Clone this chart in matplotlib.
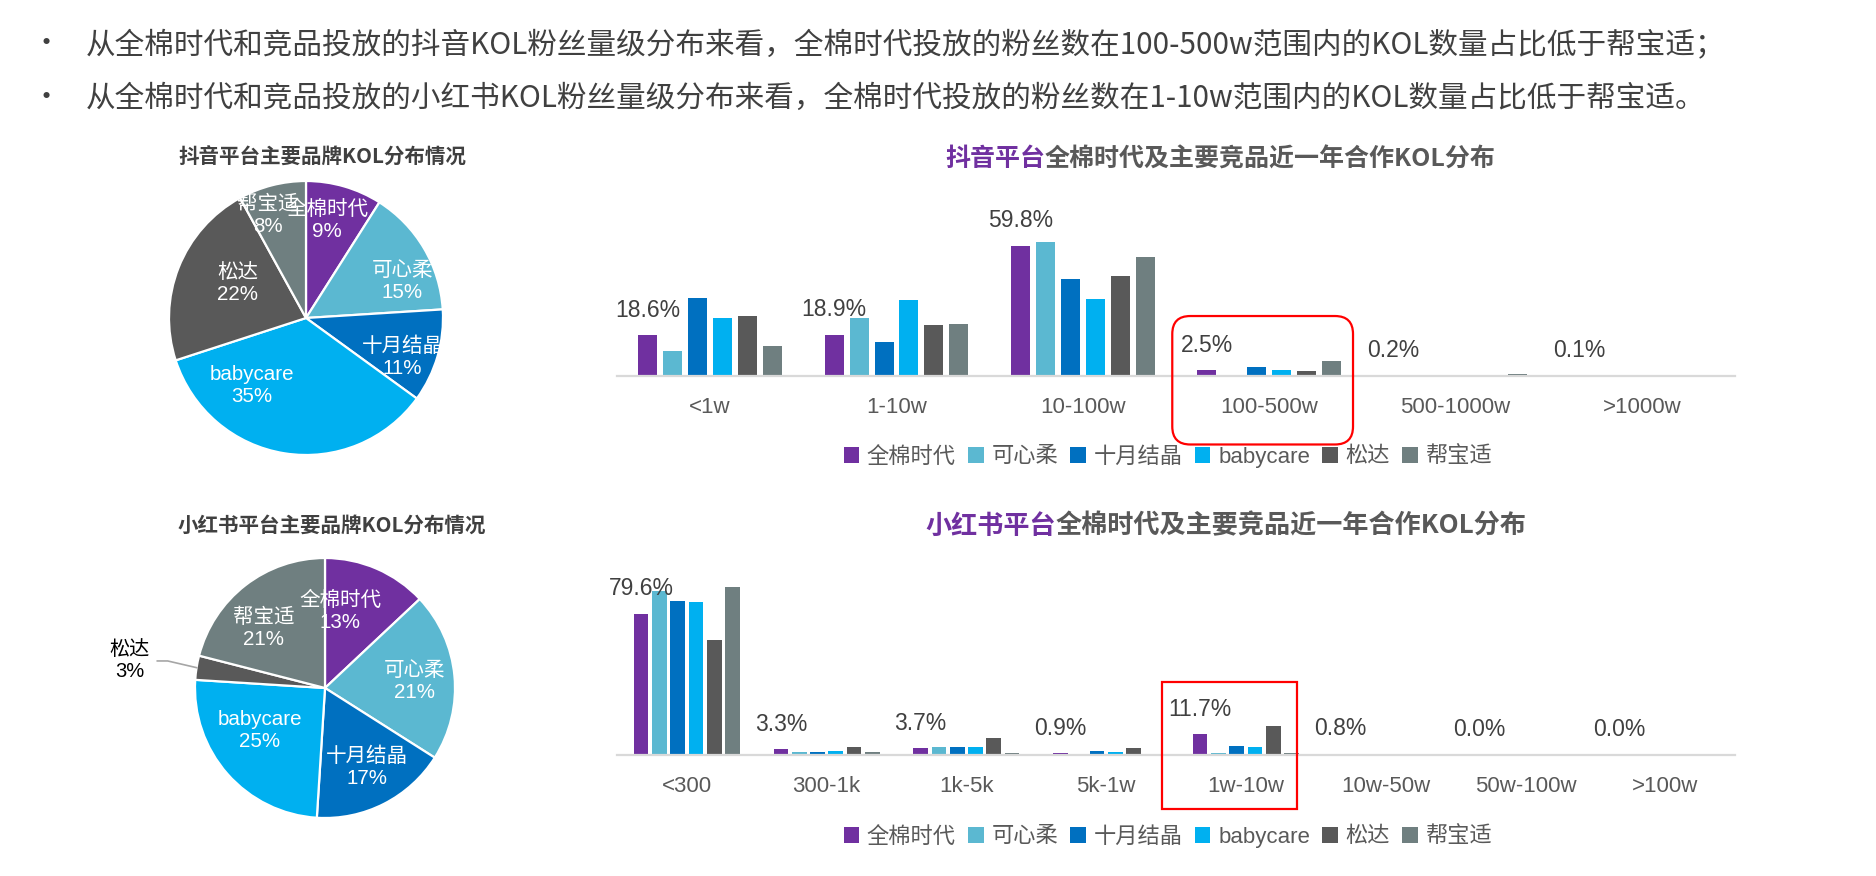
import matplotlib
matplotlib.use('Agg')
import matplotlib.pyplot as plt
from matplotlib.patches import Patch, FancyBboxPatch
from matplotlib.lines import Line2D
from matplotlib.transforms import IdentityTransform
import numpy as np

plt.rcParams['font.family'] = ['Liberation Sans', 'Noto Sans CJK SC', 'DejaVu Sans']
CJK = ['Noto Sans CJK SC', 'DejaVu Sans']

# ---------------- data ----------------
brands = ['全棉时代', '可心柔', '十月结晶', 'babycare', '松达', '帮宝适']
colors = ['#7030A0', '#5BB8D1', '#0070C0', '#00B0F0', '#595959', '#6F7F80']

douyin_pie = [9, 15, 11, 35, 22, 8]
xhs_pie = [13, 21, 17, 25, 3, 21]

douyin_cats = ['<1w', '1-10w', '10-100w', '100-500w', '500-1000w', '>1000w']
dy_quanmian = [18.6, 18.9, 59.8, 2.5, 0.2, 0.1]
dy_kexinrou = [11.2, 26.7, 61.5, 0.2, 0.2, 0.1]
dy_shiyue = [35.7, 15.4, 44.7, 3.8, 0.2, 0.1]
dy_babycare = [26.6, 34.7, 35.5, 2.6, 0.3, 0.1]
dy_songda = [27.7, 23.4, 46.1, 2.2, 0.3, 0.1]
dy_bangbaoshi = [13.5, 23.7, 54.7, 6.6, 0.6, 0.1]

xhs_cats = ['<300', '300-1k', '1k-5k', '5k-1w', '1w-10w', '10w-50w', '50w-100w', '>100w']
xhs_quanmian = [79.6, 3.3, 3.7, 0.9, 11.7, 0.8, 0.0, 0.0]
xhs_kexinrou = [92.5, 1.5, 4.3, 0.5, 1.0, 0.2, 0.0, 0.0]
xhs_shiyue = [86.7, 1.5, 4.3, 2.1, 4.9, 0.1, 0.0, 0.0]
xhs_babycare = [86.2, 2.3, 4.3, 1.5, 4.5, 0.5, 0.0, 0.0]
xhs_songda = [64.8, 4.3, 9.8, 3.8, 16.1, 0.6, 0.0, 0.0]
xhs_bangbaoshi = [94.4, 1.5, 1.3, 0.2, 1.3, 0.4, 0.0, 0.0]

bullets = [
    '从全棉时代和竞品投放的抖音KOL粉丝量级分布来看，全棉时代投放的粉丝数在100-500w范围内的KOL数量占比低于帮宝适；',
    '从全棉时代和竞品投放的小红书KOL粉丝量级分布来看，全棉时代投放的粉丝数在1-10w范围内的KOL数量占比低于帮宝适。',
]

# ---------------- figure ----------------
W, H = 1876, 876
fig = plt.figure(figsize=(W / 100, H / 100), dpi=100)


def fx(px):
    return px / W


def fy(py):
    return 1 - py / H


TXT = '#404040'
GRAY = '#595959'

# bullets
for i, t in enumerate(bullets):
    yy = 44.5 + i * 53.5
    fig.text(fx(46), fy(yy), '•', fontsize=21, color=TXT, va='center', ha='center', family=CJK)
    fig.text(fx(86), fy(yy), t, fontsize=21.3, color=TXT, va='center', ha='left', family=CJK)


# ---------------- pies ----------------
def draw_pie(cx, cy, r, vals, title, tpos, lab_delta, lab_rad, outside=None):
    ax = fig.add_axes([fx(cx - r), fy(cy + r), 2 * r / W, 2 * r / H])
    ax.pie(vals, colors=colors, startangle=90, counterclock=False, radius=1,
           wedgeprops=dict(edgecolor='white', linewidth=1.6))
    ax.set_xlim(-1, 1)
    ax.set_ylim(-1, 1)
    ax.set_aspect('equal')
    ax.axis('off')
    total = float(sum(vals))
    cum = 0.0
    for i, v in enumerate(vals):
        mid = (cum + v / 2) / total * 360
        cum += v
        if outside is not None and i == outside:
            ang = np.deg2rad(mid)
            ex, ey = np.sin(ang), np.cos(ang)
            ax.add_line(Line2D([ex, -1.21, -1.29], [ey, 0.208, 0.208], color='#A6A6A6',
                               lw=1.2, clip_on=False))
            ax.text(-1.5, 0.21, f'{brands[i]}\n{v}%', ha='center', va='center', fontsize=14.5,
                    color='black', linespacing=1.2, clip_on=False)
            continue
        ang = np.deg2rad(mid + lab_delta[i])
        rr = lab_rad[i]
        ax.text(rr * np.sin(ang), rr * np.cos(ang), f'{brands[i]}\n{v}%', ha='center',
                va='center', fontsize=14.8, color='white', linespacing=1.2)
    fig.text(fx(tpos[0]), fy(tpos[1]), title, ha='center', va='center', fontsize=14.8,
             fontweight='bold', color=TXT, family=CJK)


draw_pie(306, 318, 137, douyin_pie, '抖音平台主要品牌KOL分布情况', (322, 157),
         [-4, 10, 6, 30, 5, -6], [0.73, 0.75, 0.76, 0.63, 0.56, 0.8])
draw_pie(325, 688, 130, xhs_pie, '小红书平台主要品牌KOL分布情况', (332, 525),
         [-12, 1, -1, 8, 0, -8], [0.6, 0.69, 0.69, 0.6, 0.0, 0.66], outside=4)


# ---------------- bars ----------------
def draw_bars(base_y, ymax, pxper, cats, series, pitch, bw, title_pre, title_rest, title_x,
              title_y, title_fs, legend_y, box):
    x0, x1 = 617, 1735
    hpx = ymax * pxper
    ax = fig.add_axes([fx(x0), fy(base_y), (x1 - x0) / W, hpx / H])
    n = len(cats)
    x = np.arange(n)
    for i, (vals, c) in enumerate(zip(series, colors)):
        off = (i - 2.5) * pitch
        ax.bar(x + off, vals, width=bw, color=c, label=brands[i], zorder=2)
    first = series[0]
    for xi, v in zip(x, first):
        ax.annotate(f'{v:.1f}%', (xi - 2.5 * pitch, v), xytext=(0, 18),
                    textcoords='offset points', ha='center', va='center', fontsize=16.5,
                    color=TXT)
    ax.set_xlim(-0.5, n - 0.5)
    ax.set_ylim(0, ymax)
    ax.set_xticks(x)
    ax.set_xticklabels(cats, fontsize=16, color=GRAY)
    ax.tick_params(axis='x', length=0, pad=15)
    ax.set_yticks([])
    for s in ['top', 'left', 'right']:
        ax.spines[s].set_visible(False)
    ax.spines['bottom'].set_color('#D9D9D9')
    ax.spines['bottom'].set_linewidth(1.6)
    ax.patch.set_alpha(0)

    # title in two colours
    t1 = fig.text(fx(title_x), fy(title_y), title_pre, ha='left', va='center', fontsize=title_fs,
                  fontweight='bold', color='#7030A0', family=CJK)
    fig.canvas.draw()
    bb = t1.get_window_extent()
    fig.text(bb.x1 / W, fy(title_y), title_rest, ha='left', va='center', fontsize=title_fs,
             fontweight='bold', color=GRAY, family=CJK)

    handles = [Patch(facecolor=c, edgecolor='none') for c in colors]
    leg = fig.legend(handles, brands, loc='center', bbox_to_anchor=(fx(1168), fy(legend_y)),
                     ncol=6, frameon=False, handlelength=0.7, handleheight=0.7,
                     handletextpad=0.35, columnspacing=0.55, fontsize=16)
    for t in leg.get_texts():
        t.set_color(GRAY)

    # highlight box
    ci, dxl, dxr, ylo, yhi, rnd = box
    p0 = ax.transData.transform((ci + dxl, ylo))
    p1 = ax.transData.transform((ci + dxr, yhi))
    style = f'round,pad=0,rounding_size={rnd}' if rnd > 0 else 'square,pad=0'
    rect = FancyBboxPatch((p0[0], p0[1]), p1[0] - p0[0], p1[1] - p0[1], boxstyle=style,
                          transform=IdentityTransform(), fill=False, edgecolor='#FF0000',
                          linewidth=1.6, zorder=5)
    fig.add_artist(rect)
    return ax


draw_bars(375.7, 70, 2.17, douyin_cats,
          [dy_quanmian, dy_kexinrou, dy_shiyue, dy_babycare, dy_songda, dy_bangbaoshi],
          0.134, 0.102, '抖音平台', '全棉时代及主要竞品近一年合作KOL分布', 945, 159, 18, 457,
          (3, -0.52, 0.45, -31.7, 27.5, 18))
draw_bars(755, 100, 1.775, xhs_cats,
          [xhs_quanmian, xhs_kexinrou, xhs_shiyue, xhs_babycare, xhs_songda, xhs_bangbaoshi],
          0.131, 0.105, '小红书平台', '全棉时代及主要竞品近一年合作KOL分布', 925, 526, 18.8, 837,
          (4, -0.6, 0.365, -30.5, 41, 0))

fig.savefig('out.png', dpi=100, facecolor='white')
